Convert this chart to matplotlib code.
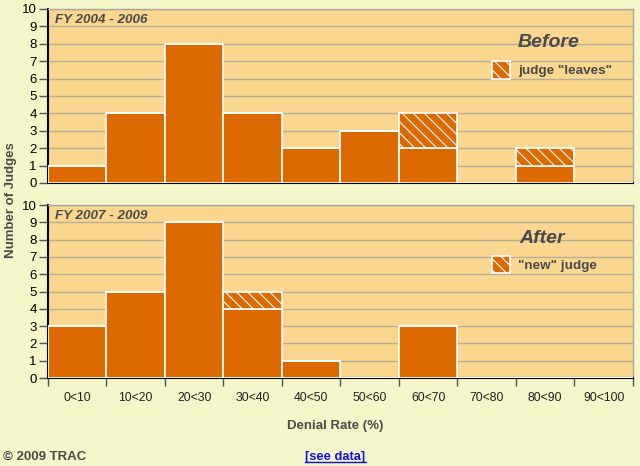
import matplotlib
matplotlib.use('Agg')
import matplotlib.pyplot as plt
from matplotlib.patches import Patch
from matplotlib.lines import Line2D

plt.rcParams['font.family'] = ['Liberation Sans', 'DejaVu Sans']
plt.rcParams['hatch.linewidth'] = 0.8

bins = [0, 10, 20, 30, 40, 50, 60, 70, 80, 90]
bin_labels = ['0<10', '10<20', '20<30', '30<40', '40<50',
              '50<60', '60<70', '70<80', '80<90', '90<100']

before_solid = [1, 4, 8, 4, 2, 3, 2, 0, 1, 0]
before_hatch = [0, 0, 0, 0, 0, 0, 2, 0, 1, 0]
after_solid = [3, 5, 9, 4, 1, 0, 3, 0, 0, 0]
after_hatch = [0, 0, 0, 1, 0, 0, 0, 0, 0, 0]

BG = '#F5F5CA'
PANEL = '#FAD68E'
BAR = '#DD6A00'
GRID = '#B7AE98'
TXT = '#4A4A4A'
HATCH = '\\\\\\'

fig = plt.figure(figsize=(6.4, 4.66), dpi=100, facecolor=BG)
ax1 = fig.add_axes([0.075, 0.6073, 0.914, 0.3734])
ax2 = fig.add_axes([0.075, 0.1888, 0.914, 0.3712])


def panel(ax, solid, hatch, period, title, leg_label, show_x, ty, ly):
    ax.set_facecolor(PANEL)
    ax.bar(bins, solid, width=10, align='edge', color=BAR,
           edgecolor='white', linewidth=1.2, zorder=3)
    ax.bar(bins, hatch, width=10, align='edge', bottom=solid, color=BAR,
           edgecolor='white', linewidth=1.2, hatch=HATCH, zorder=3)
    ax.set_xlim(0, 100)
    ax.set_ylim(0, 10)
    ax.set_yticks(range(0, 11))
    ax.yaxis.grid(True, color=GRID, linewidth=1.0, zorder=0)
    ax.set_axisbelow(True)
    ax.tick_params(axis='y', length=6.5, width=1, labelsize=9.5, pad=1.5,
                   colors='#555555', labelcolor='black')
    for s in ('top', 'right'):
        ax.spines[s].set_color('#A8A8A0')
        ax.spines[s].set_linewidth(1.0)
    for s in ('left', 'bottom'):
        ax.spines[s].set_color('black')
        ax.spines[s].set_linewidth(1.5)
    if show_x:
        ax.set_xticks(range(0, 101, 10))
        ax.set_xticklabels([])
        ax.set_xticks([b + 5 for b in bins], minor=True)
        ax.set_xticklabels(bin_labels, minor=True, fontsize=8.8, color='#222222')
        ax.tick_params(axis='x', which='major', length=6, width=1,
                       direction='out', color='#555555')
        ax.tick_params(axis='x', which='minor', length=0, pad=10)
    else:
        ax.set_xticks([])
    ax.text(0.012, 0.937, period, transform=ax.transAxes, fontsize=9.6,
            fontweight='bold', fontstyle='italic', color=TXT, va='center')
    ax.text(ty, 0.805, title, transform=ax.transAxes, fontsize=14,
            fontweight='bold', fontstyle='italic', color=TXT, va='center',
            ha='center')
    handle = Patch(facecolor=BAR, edgecolor='white', hatch=HATCH, linewidth=1.2)
    ax.legend(handles=[handle], labels=[leg_label], loc='center left',
              bbox_to_anchor=(0.759, ly), frameon=False, handlelength=1.35,
              handleheight=1.6, handletextpad=0.6, borderpad=0, borderaxespad=0,
              prop={'size': 9.7, 'weight': 'bold'}, labelcolor=TXT)


panel(ax1, before_solid, before_hatch, 'FY 2004 - 2006', 'Before',
      'judge "leaves"', False, 0.855, 0.649)
panel(ax2, after_solid, after_hatch, 'FY 2007 - 2009', 'After',
      '"new" judge', True, 0.845, 0.656)

fig.text(0.017, 0.571, 'Number of Judges', rotation=90, ha='center', va='center',
         fontsize=9.5, fontweight='bold', color=TXT)
fig.text(0.523, 0.086, 'Denial Rate (%)', ha='center', va='center',
         fontsize=9.5, fontweight='bold', color=TXT)
fig.text(0.004, 0.019, '\u00a9 2009 TRAC', ha='left', va='center',
         fontsize=9.5, fontweight='bold', color=TXT)
fig.text(0.5234, 0.019, '[see data]', ha='center', va='center',
         fontsize=9.3, fontweight='bold', color='#1010E8')
fig.add_artist(Line2D([0.477, 0.572], [0.008, 0.008], color='#1010E8',
                      linewidth=1, transform=fig.transFigure))

fig.savefig('out.png', dpi=100, facecolor=BG)
